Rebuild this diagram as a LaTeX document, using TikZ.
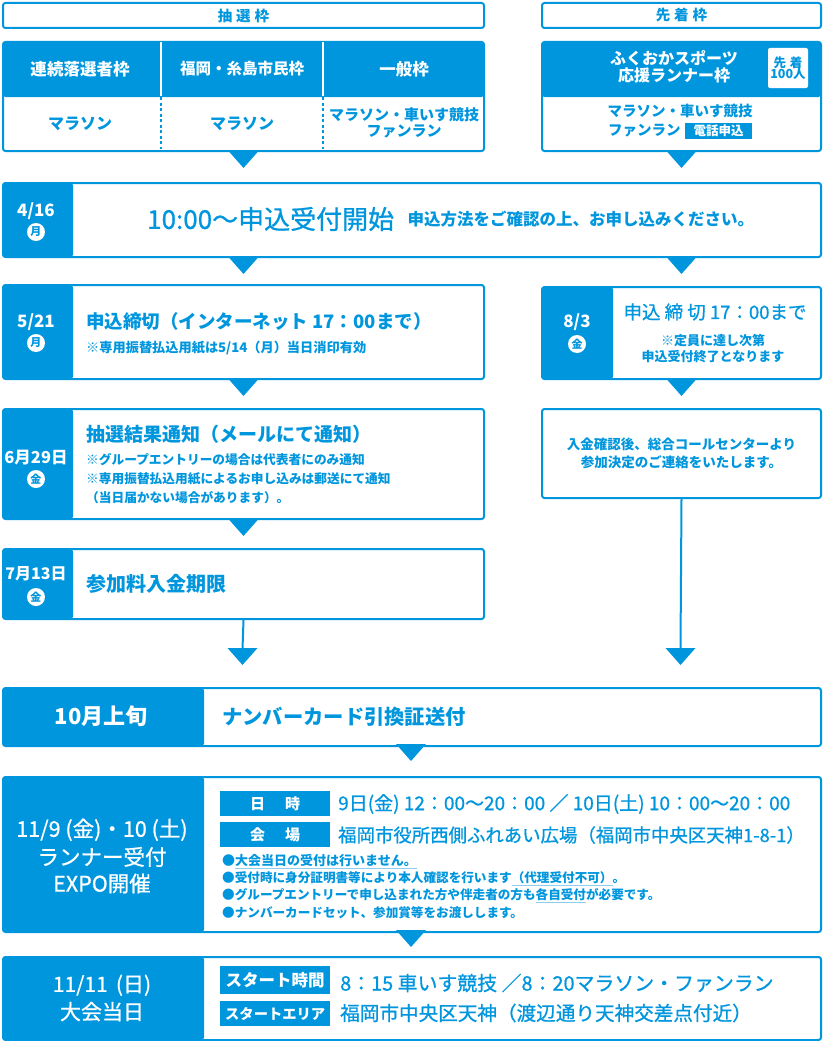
\documentclass[tikz,border=0pt]{standalone}
\usepackage{fontspec}
\setmainfont{Noto Sans CJK JP}
\newfontfamily\medf[FakeBold=0.8]{Noto Sans CJK JP}
\usetikzlibrary{calc}
\definecolor{mb}{RGB}{0,150,222}
\definecolor{ulc}{RGB}{140,205,240}
\newcommand\fsz[1]{\fontsize{#1}{#1}\selectfont}
\newcommand\myul[1]{\setbox0\hbox{#1}\rlap{\color{ulc}\rule[-3.5pt]{\wd0}{0.9pt}}\box0}
\begin{document}
\begin{tikzpicture}[x=1pt,y=-1pt,
  box/.style={draw=mb,line width=2pt,rounded corners=2.5pt,fill=white,anchor=north west,inner sep=0pt},
  lband/.style={path picture={\fill[mb] (path picture bounding box.north west) rectangle ([xshift=#1]path picture bounding box.south west);}},
  tband/.style={path picture={\fill[mb] (path picture bounding box.north west) rectangle ([yshift=-#1]path picture bounding box.north east);}},
  t/.style={inner sep=0pt,text=mb},
  w/.style={inner sep=0pt,text=white},
  dayc/.style={circle,fill=white,text=mb,inner sep=0pt,minimum size=18pt,font=\bfseries\fsz{11}},
  lab/.style={fill=mb,text=white,inner sep=0pt,anchor=north west,minimum width=110pt,font=\bfseries\fsz{15}},
  conn/.style={draw=mb,line width=2pt},
  downtri/.pic={\fill[mb] (-15,-1) -- (15,-1) -- (0,16) -- cycle;}
]
\useasboundingbox (0,0) rectangle (822,1041);

% ---- top headers
\node[box,minimum width=481pt,minimum height=25pt] (sel) at (2,2) {};
\node[t,font=\bfseries\fsz{14.5}] (selt) at (sel.center) {抽\hspace{4pt}選\hspace{4pt}枠};
\node[box,minimum width=279pt,minimum height=25pt] (fst) at (541,2) {};
\node[t,font=\bfseries\fsz{14.5}] (fstt) at (fst.center) {先\hspace{4pt}着\hspace{4pt}枠};

% ---- left table
\node[box,minimum width=481pt,minimum height=109pt,tband=55pt] (tblL) at (2,41) {};
\draw[white,line width=1.5pt] (161,42) -- (161,96) (323,42) -- (323,96);
\draw[mb,line width=1.5pt,dash pattern=on 3pt off 2.5pt] (161,97) -- (161,149) (323,97) -- (323,149);
\node[w,font=\bfseries\fsz{16.5}] (h1) at (80,69) {連続落選者枠};
\node[w,font=\bfseries\fsz{15.5}] (h2) at (242,69) {福岡・糸島市民枠};
\node[w,font=\bfseries\fsz{16.5}] (h3) at (404,69) {一般枠};
\node[t,font=\bfseries\fsz{16}] (b1) at (80,124) {マラソン};
\node[t,font=\bfseries\fsz{16}] (b2) at (242,124) {マラソン};
\node[t,font=\bfseries\fsz{15},align=center] (b3) at (404,123) {マラソン・車いす競技\\[1pt]ファンラン};

% ---- right table
\node[box,minimum width=279pt,minimum height=109pt,tband=55pt] (tblR) at (541,41) {};
\node[w,font=\bfseries\fsz{16},align=center] (hr) at (674,67) {ふくおかスポーツ\\[1pt]応援ランナー枠};
\node[fill=white,rounded corners=2pt,minimum width=40pt,minimum height=40pt,inner sep=0pt] (badge) at (788,68) {};
\node[t,font=\bfseries\fsz{12.5},align=center] (badget) at (badge.center) {先\hspace{4pt}着\\[-1pt]100人};
\node[t,font=\bfseries\fsz{14.5}] (br1) at (680,111) {マラソン・車いす競技};
\node[t,font=\bfseries\fsz{14.5},anchor=west] (br2) at (608,131) {ファンラン};
\node[fill=mb,text=white,font=\bfseries\fsz{12.5},inner sep=0pt,minimum width=67pt,minimum height=16pt,anchor=west] (tel) at (685,131) {電話申込};

\pic at (tblL.south) {downtri};
\pic at (tblR.south) {downtri};

% ---- 4/16
\node[box,minimum width=818pt,minimum height=74pt,lband=70pt] (r416) at (2,182) {};
\node[w,font=\bfseries\fsz{17}] (d416) at (36,211) {4/16};
\node[dayc] (c416) at (36,232) {月};
\node[t,font=\medf\fsz{26},anchor=west] (t416) at (147,219) {10:00〜申込受付開始};
\node[t,font=\bfseries\fsz{16.5},anchor=west] (s416) at (t416.east) {\hspace{13pt}申込方法をご確認の上、お申し込みください。};
\pic at (r416.south -| tblL.south) {downtri};
\pic at (r416.south -| tblR.south) {downtri};

% ---- 5/21
\node[box,minimum width=481pt,minimum height=94pt,lband=70pt] (r521) at (2,284) {};
\node[w,font=\bfseries\fsz{17}] (d521) at (36,322) {5/21};
\node[dayc] (c521) at (36,343) {月};
\node[t,font=\bfseries\fsz{18.5},anchor=west] (t521) at (86,321) {申込締切（インターネット 17：00まで）};
\node[t,font=\bfseries\fsz{13.2},anchor=west] (s521) at (86,348) {※専用振替払込用紙は5/14（月）当日消印有効};
\pic at (r521.south) {downtri};

% ---- 8/3
\node[box,minimum width=279pt,minimum height=92pt,lband=71pt] (r83) at (541,286) {};
\node[w,font=\bfseries\fsz{17}] (d83) at (577,322) {8/3};
\node[dayc] (c83) at (577,344) {金};
\node[t,font=\medf\fsz{18.5}] (t83) at (715,312) {申込 締 切 17：00まで};
\node[t,font=\bfseries\fsz{13},align=center] (s83) at (713,348.5) {※定員に達し次第\\[3.5pt]申込受付終了となります};
\pic at (r83.south) {downtri};

% ---- 6/29
\node[box,minimum width=481pt,minimum height=110pt,lband=70pt] (r629) at (2,408) {};
\node[w,font=\bfseries\fsz{16.5}] (d629) at (36,458) {6月29日};
\node[dayc] (c629) at (36,479) {金};
\node[t,font=\bfseries\fsz{19},anchor=west] (t629) at (86,434) {抽選結果通知（メールにて通知）};
\node[t,font=\bfseries\fsz{12.7},anchor=west] (s629a) at (86,460) {※グループエントリーの場合は代表者にのみ通知};
\node[t,font=\bfseries\fsz{12.7},anchor=west] (s629b) at (86,479) {※専用振替払込用紙によるお申し込みは郵送にて通知};
\node[t,font=\bfseries\fsz{12.7},anchor=west] (s629c) at (86,498) {（当日届かない場合があります）。};
\pic at (r629.south) {downtri};

% ---- payment (right)
\node[box,minimum width=279pt,minimum height=89pt] (pay) at (541,408) {};
\node[t,font=\bfseries\fsz{13.5},align=center] (payt) at (pay.center) {入金確認後、総合コールセンターより\\[4pt]参加決定のご連絡をいたします。};

% ---- 7/13
\node[box,minimum width=481pt,minimum height=70pt,lband=70pt] (r713) at (2,548) {};
\node[w,font=\bfseries\fsz{16}] (d713) at (36,574) {7月13日};
\node[dayc] (c713) at (36,597) {金};
\node[t,font=\bfseries\fsz{20},anchor=west] (t713) at (86,584) {参加料入金期限};

\coordinate (aL) at (242.5,649);
\coordinate (aR) at (680.5,649);
\draw[conn] (r713.south) -- (aL);
\draw[conn] (pay.south) -- (aR);
\pic at (aL) {downtri};
\pic at (aR) {downtri};

% ---- 10月上旬
\node[box,minimum width=818pt,minimum height=58pt,lband=201pt] (r10) at (2,687) {};
\node[w,font=\bfseries\fsz{22}] (d10) at (101,716) {10月上旬};
\node[t,font=\bfseries\fsz{20.3},anchor=west] (t10) at (222,717) {ナンバーカード引換証送付};
\coordinate (m1) at (411,745);
\pic at (m1) {downtri};

% ---- EXPO
\node[box,minimum width=818pt,minimum height=155pt,lband=201pt] (rex) at (2,776) {};
\node[w,font=\medf\fsz{21.5},align=center] (dex) at (102,856) {11/9 (金)・10 (土)\\[5pt]ランナー受付\\[5pt]EXPO開催};
\node[lab,minimum height=25pt] (l1) at (220,791) {日\hspace{20pt}時};
\node[lab,minimum height=25pt] (l2) at (220,822) {会\hspace{20pt}場};
\node[t,font=\medf\fsz{19},anchor=west] (tx1) at (338,804) {9日(金) 12：00〜20：00 ／ 10日(土) 10：00〜20：00};
\node[t,font=\medf\fsz{18.4},anchor=west] (tx2) at (338,835) {福岡市役所西側ふれあい広場（福岡市中央区天神1-8-1）};
\node[t,font=\bfseries\fsz{13},anchor=west] (bl1) at (222,862) {●\myul{大会当日の受付は行いません。}};
\node[t,font=\bfseries\fsz{12.6},anchor=west] (bl2) at (222,879) {●受付時に身分証明書等により本人確認を行います\myul{（代理受付不可）}。};
\node[t,font=\bfseries\fsz{12.6},anchor=west] (bl3) at (222,896) {●グループエントリーで申し込まれた方や伴走者の方も\myul{各自受付}が必要です。};
\node[t,font=\bfseries\fsz{12.6},anchor=west] (bl4) at (222,913) {●ナンバーカードセット、参加賞等をお渡しします。};
\coordinate (m2) at (411,931);
\pic at (m2) {downtri};

% ---- race day
\node[box,minimum width=818pt,minimum height=83pt,lband=201pt] (rday) at (2,956) {};
\node[w,font=\medf\fsz{21},align=center] (dday) at (102,998) {11/11 \,(日)\\[5pt]大会当日};
\node[lab,minimum height=28pt,font=\bfseries\fsz{16.5}] (l3) at (220,966) {スタート時間};
\node[lab,minimum height=25pt,font=\bfseries\fsz{14.3}] (l4) at (220,1001) {スタートエリア};
\node[t,font=\medf\fsz{19.9},anchor=west] (ty1) at (340,983) {8：15 車いす競技 ／8：20マラソン・ファンラン};
\node[t,font=\medf\fsz{19.6},anchor=west] (ty2) at (340,1013) {福岡市中央区天神（渡辺通り天神交差点付近）};
\end{tikzpicture}
\end{document}
